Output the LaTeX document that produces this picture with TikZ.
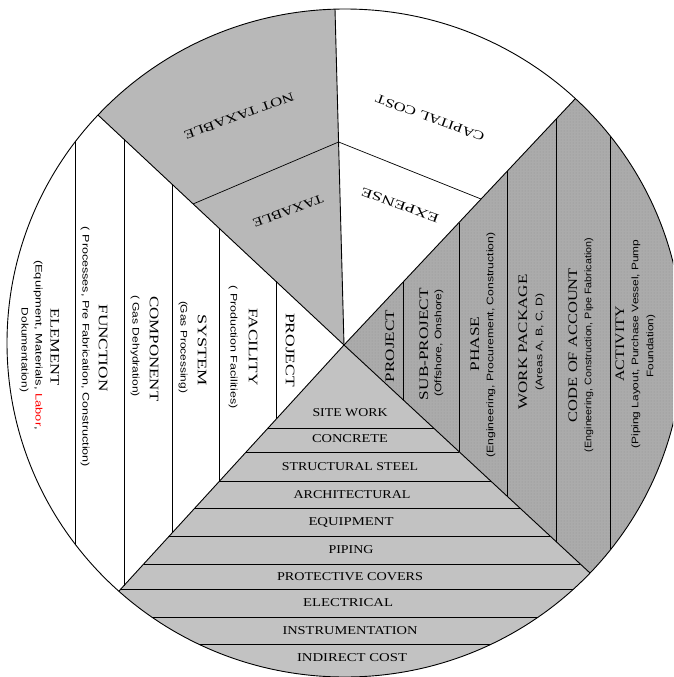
\documentclass[tikz,border=0pt]{standalone}
\usepackage{fontspec}
\setmainfont{Liberation Serif}
\setsansfont{Liberation Sans}
\usetikzlibrary{patterns}
\newcommand{\fitw}[2]{\resizebox{#1pt}{\height}{#2}}
\definecolor{bottomgray}{HTML}{C2C2C2}
\definecolor{rightgray}{HTML}{ABABAB}
\definecolor{dotgray}{HTML}{939393}
\definecolor{ulgray}{HTML}{B8B8B8}
\tikzset{
  ln/.style={draw=black, line width=0.9pt},
  thin ln/.style={draw=black, line width=0.7pt},
  title/.style={font=\fontsize{13}{15}\selectfont, inner sep=0pt},
  subt/.style={font=\sffamily\fontsize{9.5}{11}\selectfont, inner sep=0pt},
  hlab/.style={font=\fontsize{12}{14}\selectfont, inner sep=0pt},
  udlab/.style={font=\fontsize{12.5}{14}\selectfont, inner sep=0pt}
}
\begin{document}
\begin{tikzpicture}[x=1pt,y=-1pt,line join=round]
\useasboundingbox (0,0) rectangle (673,677);
\clip (0,0) rectangle (673,677);
\coordinate (V) at (344,345);
\coordinate (C) at (345,343);
\coordinate (Tx) at (330.5,-159);
\coordinate (ULx) at (-25,0);
\coordinate (URx) at (690.5,-24);
\coordinate (LRx) at (713,687);
\coordinate (LLx) at (6.5,714);
\fill[white] (C) ellipse [x radius=338pt, y radius=334pt];
\begin{scope}
\clip (C) ellipse [x radius=338pt, y radius=334pt];
% sector fills
\fill[bottomgray] (V) -- (LLx) -- (6.5,800) -- (713,800) -- (LRx) -- cycle;
\fill[rightgray] (V) -- (LRx) -- (800,700) -- (800,-50) -- (URx) -- cycle;
\fill[pattern=dots, pattern color=dotgray] (V) -- (LRx) -- (800,700) -- (800,-50) -- (URx) -- cycle;
\fill[ulgray] (V) -- (Tx) -- (-100,-159) -- (-100,0) -- (ULx) -- cycle;
% sector boundaries
\draw[ln] (V) -- (Tx);
\draw[ln] (V) -- (ULx);
\draw[ln] (V) -- (URx);
\draw[ln] (V) -- (LRx);
\draw[ln] (V) -- (LLx);
% arc-like divider in the top sector
\coordinate (A) at (193,204);
\coordinate (B) at (338.6,142);
\coordinate (Cc) at (481,199);
\draw[thin ln] (A) -- (B) -- (Cc);
% left strips
\draw[ln] (75,93.5) -- (75,639);
\draw[ln] (124,139.3) -- (124,585.5);
\draw[ln] (172,184.2) -- (172,533);
\draw[ln] (219,228.1) -- (219,481.7);
\draw[ln] (276,281.4) -- (276,419.3);
% right strips
\draw[ln] (403,282.2) -- (403,399.7);
\draw[ln] (459,222.5) -- (459,451.6);
\draw[ln] (507,171.4) -- (507,496);
\draw[ln] (556,119.2) -- (556,541.5);
\draw[ln] (610,62) -- (610,591.6);
% bottom strips
\draw[ln] (268.1,428) -- (433.5,428);
\draw[ln] (246.1,452) -- (459.4,452);
\draw[ln] (219.6,481) -- (490.7,481);
\draw[ln] (194.9,508) -- (519.8,508);
\draw[ln] (169.3,536) -- (550,536);
\draw[ln] (143.7,564) -- (580.2,564);
\draw[ln] (120.8,589) -- (607,589);
\draw[ln] (95.2,617) -- (637.4,617);
\draw[ln] (70.5,644) -- (666.5,644);
\end{scope}
\draw[ln] (C) ellipse [x radius=338pt, y radius=334pt];

% upside-down labels
\node[udlab, rotate=200] (ntax) at (239,116) {\fitw{116}{NOT TAXABLE}};
\node[udlab, rotate=200] (tax) at (288,211) {\fitw{74}{TAXABLE}};
\node[udlab, rotate=160] (cap) at (430,118) {\fitw{115}{CAPITAL COST}};
\node[udlab, rotate=160] (exps) at (400,205) {\fitw{82}{EXPENSE}};

% left strip labels
\node[title, rotate=-90] (elem) at (55,347) {\fitw{77}{ELEMENT}};
\node[subt, rotate=-90] (elem1) at (38,345) {\fitw{170}{(Equipment, Materials, \textcolor{red}{Labor},}};
\node[subt, rotate=-90] (elem2) at (24,350) {\fitw{84}{Dokumentation)}};
\node[title, rotate=-90] (func) at (103,348) {\fitw{87}{FUNCTION}};
\node[subt, rotate=-90] (func1) at (85,347) {\fitw{240}{( Processes, Pre Fabrication, Construction)}};
\node[title, rotate=-90] (comp) at (154,349) {\fitw{105}{COMPONENT}};
\node[subt, rotate=-90] (comp1) at (135,346) {\fitw{102}{( Gas Dehydration)}};
\node[title, rotate=-90] (sys) at (202,350) {\fitw{72}{SYSTEM}};
\node[subt, rotate=-90] (sys1) at (183,347) {\fitw{92}{(Gas Processing)}};
\node[title, rotate=-90] (fac) at (253,347) {\fitw{77}{FACILITY}};
\node[subt, rotate=-90] (fac1) at (233,347) {\fitw{123}{( Production Facilities)}};
\node[title, rotate=-90] (projL) at (290,350) {\fitw{74}{PROJECT}};

% right strip labels
\node[title, rotate=90] (projR) at (390,346) {\fitw{72}{PROJECT}};
\node[title, rotate=90] (subp) at (424,344) {\fitw{112}{SUB-PROJECT}};
\node[subt, rotate=90] (subp1) at (439,343) {\fitw{107}{(Offshore, Onshore)}};
\node[title, rotate=90] (phase) at (475,344) {\fitw{55}{PHASE}};
\node[subt, rotate=90] (phase1) at (491,345) {\fitw{225}{(Engineering, Procurement, Construction)}};
\node[title, rotate=90] (wp) at (523,342) {\fitw{135}{WORK PACKAGE}};
\node[subt, rotate=90] (wp1) at (540,342) {\fitw{97}{(Areas A, B, C, D)}};
\node[title, rotate=90] (coa) at (573,345) {\fitw{154}{CODE OF ACCOUNT}};
\node[subt, rotate=90] (coa1) at (589,345) {\fitw{214}{(Engineering, Construction, Pipe Fabrication)}};
\node[title, rotate=90] (act) at (620,344) {\fitw{75}{ACTIVITY}};
\node[subt, rotate=90] (act1) at (636,344) {\fitw{209}{(Piping Layout, Purchase Vessel, Pump}};
\node[subt, rotate=90] (act2) at (651,346) {\fitw{63}{Foundation)}};

% bottom strip labels
\node[hlab] (h1) at (350,413) {\fitw{75}{SITE WORK}};
\node[hlab] (h2) at (350,439) {\fitw{76}{CONCRETE}};
\node[hlab] (h3) at (350,467) {\fitw{136}{STRUCTURAL STEEL}};
\node[hlab] (h4) at (352,495) {\fitw{117}{ARCHITECTURAL}};
\node[hlab] (h5) at (351,522) {\fitw{85}{EQUIPMENT}};
\node[hlab] (h6) at (351,550) {\fitw{45}{PIPING}};
\node[hlab] (h7) at (350,577) {\fitw{146}{PROTECTIVE COVERS}};
\node[hlab] (h8) at (348,603) {\fitw{90}{ELECTRICAL}};
\node[hlab] (h9) at (350,631) {\fitw{135}{INSTRUMENTATION}};
\node[hlab] (h10) at (352,658) {\fitw{110}{INDIRECT COST}};
\end{tikzpicture}
\end{document}
